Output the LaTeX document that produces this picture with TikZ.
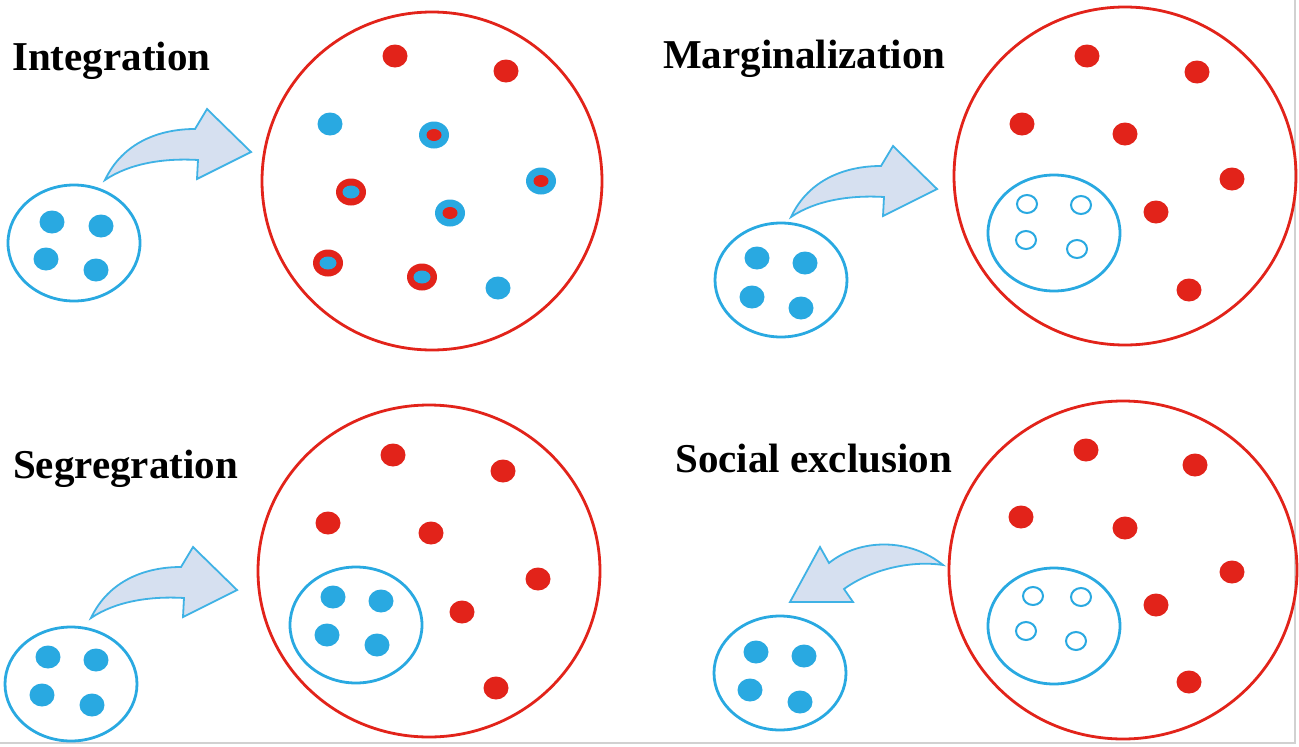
\documentclass[tikz,border=0pt]{standalone}
\usepackage{fontspec}
\setmainfont{Liberation Serif}
\definecolor{bluec}{HTML}{29A9E1}
\definecolor{redc}{HTML}{E2231A}
\definecolor{arrfill}{HTML}{D6E0F0}
\definecolor{arrline}{HTML}{3FB2E5}
\newcommand\BDot[1]{\fill[bluec] (#1) ellipse [x radius=12.5, y radius=11.5];}
\newcommand\RDot[1]{\fill[redc] (#1) ellipse [x radius=12.5, y radius=11.5];}
\newcommand\ODot[1]{\draw[bluec, line width=2pt] (#1) ellipse [x radius=10, y radius=9];}
\newcommand\BRing[1]{\fill[bluec] (#1) ellipse [x radius=15, y radius=13.5]; \fill[redc] (#1) ellipse [x radius=7.5, y radius=6];}
\newcommand\RRing[1]{\fill[redc] (#1) ellipse [x radius=15, y radius=13.5]; \fill[bluec] (#1) ellipse [x radius=8.5, y radius=6.5];}
\tikzset{
  title/.style={anchor=base west, inner sep=0pt, font=\fontsize{41}{41}\selectfont\bfseries},
  bigc/.style={draw=redc, line width=2.8pt},
  smallc/.style={draw=bluec, line width=2.8pt},
  arr/.style={fill=arrfill, draw=arrline, line width=1.8pt, line join=miter},
}
\newcommand\RightArrow[1]{%
  \draw[arr, shift={(#1)}] (0,0) .. controls (18,-38) and (55,-51) .. (90,-51)
     -- (102,-71) -- (146,-28) -- (92,-1) -- (93,-20)
     .. controls (60,-22) and (25,-17) .. cycle;}
\begin{document}
\begin{tikzpicture}[x=1pt,y=-1pt]
\useasboundingbox (0,0) rectangle (1299,747);
\fill[white] (0,0) rectangle (1299,747);
\draw[black!18, line width=1.2pt] (0,743) -- (1295,743) -- (1295,0);

% ---------- Integration ----------
\node[title] (t1) at (12,70) {Integration};
\draw[bigc] (432,181) ellipse [x radius=170, y radius=169];
\draw[smallc] (74,243) ellipse [x radius=66, y radius=58];
\BDot{52,222} \BDot{101,226} \BDot{46,259} \BDot{96,270}
\RightArrow{105,180}
\RDot{395,56} \RDot{506,71}
\BDot{330,124}
\BRing{434,135}
\RRing{351,192}
\BRing{450,213}
\BRing{541,181}
\RRing{328,263}
\RRing{422,277}
\BDot{498,288}

% ---------- Marginalization ----------
\node[title] (t2) at (663,68) {Marginalization};
\draw[bigc] (1125,176) ellipse [x radius=171, y radius=169];
\draw[smallc] (781,280) ellipse [x radius=66, y radius=57];
\BDot{757,258} \BDot{805,263} \BDot{752,297} \BDot{801,308}
\RightArrow{791,217}
\draw[smallc] (1054,233) ellipse [x radius=66, y radius=58];
\ODot{1027,204} \ODot{1081,205} \ODot{1026,240} \ODot{1077,249}
\RDot{1087,56} \RDot{1197,72} \RDot{1022,124} \RDot{1125,134}
\RDot{1232,179} \RDot{1156,212} \RDot{1189,290}

% ---------- Segregration ----------
\node[title] (t3) at (13,478) {Segregration};
\draw[bigc] (429,571) ellipse [x radius=171, y radius=166];
\draw[smallc] (71,684) ellipse [x radius=66, y radius=57];
\BDot{48,657} \BDot{96,660} \BDot{42,695} \BDot{92,705}
\RightArrow{91,618}
\draw[smallc] (356,625) ellipse [x radius=66, y radius=58];
\BDot{333,597} \BDot{381,601} \BDot{327,635} \BDot{377,645}
\RDot{393,455} \RDot{503,471} \RDot{328,523} \RDot{431,533}
\RDot{538,579} \RDot{462,612} \RDot{496,688}

% ---------- Social exclusion ----------
\node[title] (t4) at (675,472) {Social exclusion};
\draw[bigc] (1123,570) ellipse [x radius=174, y radius=169];
\draw[smallc] (780,673) ellipse [x radius=66, y radius=57];
\BDot{756,652} \BDot{804,656} \BDot{750,690} \BDot{800,702}
\draw[arr] (943,565) .. controls (910,538) and (860,538) .. (829,563)
     -- (820,547) -- (790,602) -- (853,602) -- (844,589)
     .. controls (870,570) and (910,560) .. cycle;
\draw[smallc] (1054,626) ellipse [x radius=66, y radius=58];
\ODot{1033,596} \ODot{1081,597} \ODot{1026,631} \ODot{1076,641}
\RDot{1086,450} \RDot{1195,465} \RDot{1021,517} \RDot{1125,528}
\RDot{1232,572} \RDot{1156,605} \RDot{1189,682}
\end{tikzpicture}
\end{document}
